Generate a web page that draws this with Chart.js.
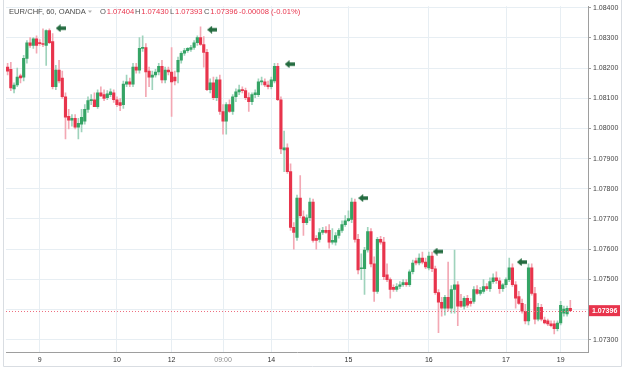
<!DOCTYPE html>
<html>
<head>
<meta charset="utf-8">
<script src="https://cdn.jsdelivr.net/npm/chart.js@4.4.1/dist/chart.umd.min.js"></script>
<style>
  html, body { margin: 0; padding: 0; background: #fff; }
</style>
</head>
<body>
<canvas id="eurchf" width="625" height="367"></canvas>
<script>
// EUR/CHF hourly candles (OANDA)
const opens = [
  1.08203,1.08196,1.08131,1.08144,1.08174,1.08170,1.08232,1.08284,1.08275,1.08297,
  1.08284,1.08281,1.08275,1.08324,1.08288,1.08138,1.08193,1.08167,1.08105,1.08040,
  1.08027,1.08033,1.08004,1.08014,1.08024,1.08063,1.08092,1.08095,1.08072,1.08118,
  1.08112,1.08102,1.08112,1.08118,1.08095,1.08086,1.08079,1.08147,1.08154,1.08147,
  1.08203,1.08193,1.08265,1.08268,1.08190,1.08170,1.08177,1.08187,1.08206,1.08161,
  1.08193,1.08187,1.08170,1.08187,1.08226,1.08249,1.08258,1.08262,1.08268,1.08284,
  1.08301,1.08278,1.08252,1.08128,1.08151,1.08102,1.08161,1.08056,1.08024,1.08079,
  1.08056,1.08105,1.08121,1.08128,1.08125,1.08102,1.08089,1.08112,1.08112,1.08154,
  1.08154,1.08144,1.08138,1.08157,1.08206,1.08095,1.07929,1.07936,1.07857,1.07672,
  1.07639,1.07769,1.07707,1.07688,1.07704,1.07756,1.07636,1.07632,1.07655,1.07662,
  1.07662,1.07623,1.07623,1.07645,1.07662,1.07681,1.07694,1.07698,1.07756,1.07632,
  1.07535,1.07535,1.07597,1.07658,1.07551,1.07460,1.07632,1.07623,1.07515,1.07499,
  1.07473,1.07466,1.07476,1.07482,1.07489,1.07482,1.07525,1.07561,1.07554,1.07570,
  1.07557,1.07538,1.07577,1.07535,1.07456,1.07424,1.07404,1.07440,1.07404,1.07466,
  1.07482,1.07427,1.07411,1.07437,1.07427,1.07427,1.07466,1.07453,1.07460,1.07476,
  1.07469,1.07492,1.07505,1.07495,1.07469,1.07482,1.07499,1.07538,1.07482,1.07443,
  1.07420,1.07394,1.07362,1.07538,1.07453,1.07368,1.07407,1.07365,1.07362,1.07352,
  1.07352,1.07336,1.07355,1.07388,1.07385,1.07404
];
const highs = [
  1.08216,1.08219,1.08151,1.08200,1.08180,1.08242,1.08291,1.08301,1.08301,1.08307,
  1.08294,1.08330,1.08327,1.08330,1.08314,1.08209,1.08226,1.08190,1.08118,1.08063,
  1.08046,1.08046,1.08033,1.08063,1.08079,1.08105,1.08112,1.08118,1.08128,1.08138,
  1.08128,1.08125,1.08131,1.08128,1.08105,1.08099,1.08157,1.08177,1.08167,1.08216,
  1.08216,1.08301,1.08307,1.08281,1.08203,1.08190,1.08196,1.08216,1.08226,1.08203,
  1.08203,1.08268,1.08190,1.08236,1.08255,1.08265,1.08268,1.08275,1.08291,1.08307,
  1.08337,1.08304,1.08262,1.08164,1.08170,1.08170,1.08177,1.08079,1.08086,1.08095,
  1.08112,1.08131,1.08144,1.08138,1.08134,1.08118,1.08118,1.08128,1.08164,1.08170,
  1.08164,1.08157,1.08170,1.08216,1.08216,1.08105,1.07991,1.07949,1.07883,1.07688,
  1.07779,1.07844,1.07727,1.07714,1.07769,1.07766,1.07645,1.07668,1.07672,1.07675,
  1.07681,1.07668,1.07655,1.07668,1.07694,1.07711,1.07727,1.07769,1.07766,1.07649,
  1.07584,1.07606,1.07672,1.07668,1.07574,1.07639,1.07642,1.07639,1.07551,1.07505,
  1.07482,1.07486,1.07492,1.07499,1.07499,1.07531,1.07564,1.07570,1.07584,1.07590,
  1.07570,1.07590,1.07590,1.07544,1.07466,1.07440,1.07447,1.07557,1.07479,1.07597,
  1.07492,1.07450,1.07443,1.07447,1.07437,1.07476,1.07479,1.07473,1.07499,1.07486,
  1.07505,1.07518,1.07525,1.07505,1.07486,1.07505,1.07570,1.07551,1.07492,1.07460,
  1.07434,1.07417,1.07551,1.07551,1.07473,1.07420,1.07417,1.07375,1.07368,1.07362,
  1.07362,1.07362,1.07427,1.07411,1.07411,1.07430
];
const lows = [
  1.08177,1.08125,1.08118,1.08138,1.08151,1.08157,1.08216,1.08268,1.08265,1.08249,
  1.08275,1.08271,1.08209,1.08281,1.08131,1.08128,1.08151,1.08099,1.07965,1.07998,
  1.08007,1.07998,1.07965,1.07988,1.08014,1.08053,1.08079,1.08079,1.08066,1.08105,
  1.08092,1.08095,1.08105,1.08086,1.08072,1.08059,1.08066,1.08138,1.08138,1.08138,
  1.08183,1.08183,1.08255,1.08105,1.08138,1.08128,1.08170,1.08177,1.08151,1.08151,
  1.08177,1.08040,1.08144,1.08151,1.08216,1.08242,1.08252,1.08255,1.08262,1.08275,
  1.08275,1.08203,1.08125,1.08118,1.08095,1.08092,1.08046,1.07981,1.07981,1.08053,
  1.08046,1.08089,1.08112,1.08118,1.08095,1.08056,1.08079,1.08102,1.08105,1.08144,
  1.08138,1.08131,1.08131,1.08151,1.08092,1.07916,1.07857,1.07851,1.07662,1.07600,
  1.07629,1.07704,1.07645,1.07681,1.07694,1.07623,1.07600,1.07623,1.07649,1.07652,
  1.07603,1.07616,1.07613,1.07636,1.07655,1.07675,1.07691,1.07688,1.07623,1.07518,
  1.07499,1.07450,1.07590,1.07541,1.07427,1.07453,1.07616,1.07499,1.07492,1.07437,
  1.07460,1.07460,1.07469,1.07476,1.07476,1.07476,1.07518,1.07548,1.07548,1.07551,
  1.07535,1.07531,1.07525,1.07450,1.07323,1.07378,1.07381,1.07394,1.07388,1.07388,
  1.07346,1.07407,1.07401,1.07407,1.07411,1.07420,1.07450,1.07447,1.07453,1.07463,
  1.07460,1.07486,1.07486,1.07453,1.07460,1.07473,1.07492,1.07476,1.07404,1.07417,
  1.07388,1.07352,1.07349,1.07447,1.07352,1.07362,1.07362,1.07352,1.07346,1.07342,
  1.07319,1.07329,1.07349,1.07378,1.07378,1.07393
];
const closes = [
  1.08190,1.08134,1.08144,1.08170,1.08167,1.08232,1.08284,1.08275,1.08297,1.08275,
  1.08281,1.08278,1.08324,1.08284,1.08138,1.08193,1.08157,1.08105,1.08037,1.08027,
  1.08033,1.08004,1.08017,1.08037,1.08063,1.08092,1.08095,1.08072,1.08118,1.08108,
  1.08099,1.08115,1.08121,1.08095,1.08079,1.08076,1.08147,1.08154,1.08147,1.08203,
  1.08193,1.08265,1.08268,1.08187,1.08170,1.08177,1.08187,1.08206,1.08161,1.08193,
  1.08187,1.08154,1.08157,1.08226,1.08249,1.08258,1.08265,1.08268,1.08284,1.08301,
  1.08278,1.08252,1.08128,1.08151,1.08102,1.08161,1.08056,1.08024,1.08079,1.08056,
  1.08105,1.08121,1.08128,1.08125,1.08102,1.08089,1.08112,1.08118,1.08154,1.08157,
  1.08144,1.08138,1.08161,1.08206,1.08095,1.07932,1.07936,1.07857,1.07672,1.07655,
  1.07769,1.07711,1.07688,1.07704,1.07756,1.07629,1.07629,1.07655,1.07662,1.07655,
  1.07623,1.07629,1.07645,1.07662,1.07681,1.07694,1.07701,1.07756,1.07632,1.07531,
  1.07538,1.07597,1.07658,1.07551,1.07460,1.07632,1.07623,1.07509,1.07499,1.07466,
  1.07466,1.07476,1.07482,1.07489,1.07482,1.07525,1.07554,1.07554,1.07570,1.07557,
  1.07541,1.07577,1.07535,1.07456,1.07424,1.07404,1.07440,1.07404,1.07466,1.07482,
  1.07411,1.07411,1.07437,1.07414,1.07420,1.07466,1.07453,1.07463,1.07476,1.07469,
  1.07492,1.07505,1.07495,1.07469,1.07482,1.07499,1.07538,1.07482,1.07437,1.07420,
  1.07394,1.07362,1.07538,1.07453,1.07368,1.07407,1.07368,1.07355,1.07352,1.07346,
  1.07336,1.07355,1.07414,1.07401,1.07404,1.07396
];

// time axis: one slot per hour, only a few are labelled
const slotCount = 181;
const dayLabels = ['9', '10', '12', '09:00', '14', '15', '16', '17', '19'];
const dayLabelBars = [10, 34, 51, 67, 82, 106, 131, 155, 172];

// green signal arrows (bar position, price)
const signalBars = [16.5, 63.6, 87.7, 110.6, 133.7, 159.9];
const signalPrices = [1.08332, 1.08327, 1.08213, 1.07769, 1.07592, 1.07557];

const yMin = 1.07259;
const yMax = 1.08405;
const yStep = 0.001;

const UP = '#35a465', DOWN = '#e8344c';
const UP_WICK = '#9fd3bc', DOWN_WICK = '#f3a8b4';
const GRID = '#e7eef3', AXIS = '#9e9e9e';
const FONT = "'Liberation Sans', Arial, sans-serif";

const categories = Array.from({ length: slotCount }, () => '');
dayLabelBars.forEach((b, i) => { categories[b] = dayLabels[i]; });

const rising = closes.map((c, i) => c >= opens[i]);
const bodies = opens.map((o, i) => [o, closes[i]]);
const wicks = lows.map((l, i) => [l, highs[i]]);
const last = closes.length - 1;
const lastClose = closes[last];

// little left-pointing arrow used as point style
const arrowImg = document.createElement('canvas');
arrowImg.width = 10;
arrowImg.height = 8;
const a = arrowImg.getContext('2d');
a.fillStyle = '#236b3f';
a.beginPath();
a.moveTo(0, 4); a.lineTo(5, 0); a.lineTo(5, 2.3); a.lineTo(10, 2.3);
a.lineTo(10, 5.7); a.lineTo(5, 5.7); a.lineTo(5, 8); a.closePath();
a.fill();

const framePlugin = {
    id: 'frame',
    beforeDraw(chart) {
        const ctx = chart.ctx;
        ctx.save();
        ctx.strokeStyle = '#d9dde2';
        ctx.lineWidth = 1;
        ctx.beginPath();
        ctx.moveTo(3.5, 0); ctx.lineTo(3.5, 366.5);
        ctx.lineTo(621.5, 366.5); ctx.lineTo(621.5, 0);
        ctx.stroke();
        ctx.restore();
    }
};

const priceLinePlugin = {
    id: 'priceLine',
    afterDatasetsDraw(chart) {
        const { ctx, chartArea } = chart;
        const py = Math.round(chart.scales.y.getPixelForValue(lastClose)) + 0.5;
        ctx.save();
        ctx.strokeStyle = '#ee6f80';
        ctx.lineWidth = 1;
        ctx.setLineDash([1, 2]);
        ctx.beginPath();
        ctx.moveTo(chartArea.left, py);
        ctx.lineTo(chartArea.right, py);
        ctx.stroke();
        ctx.restore();
    },
    afterDraw(chart) {
        const { ctx, chartArea } = chart;
        const py = chart.scales.y.getPixelForValue(lastClose);
        ctx.save();
        ctx.fillStyle = DOWN;
        ctx.fillRect(chartArea.right + 1, py - 5.5, 31, 11);
        ctx.fillStyle = '#ffffff';
        ctx.font = 'bold 7px ' + FONT;
        ctx.textBaseline = 'middle';
        ctx.fillText(lastClose.toFixed(5), chartArea.right + 4, py + 0.5);
        ctx.restore();
    }
};

const headerPlugin = {
    id: 'header',
    afterDraw(chart) {
        const ctx = chart.ctx;
        const y = 11.5;
        ctx.save();
        ctx.font = '7.6px ' + FONT;
        ctx.textBaseline = 'middle';
        ctx.fillStyle = '#4a4a4a';
        ctx.fillText('EUR/CHF, 60, OANDA', 9, y);
        ctx.fillStyle = '#b5b5b5';
        ctx.beginPath();
        ctx.moveTo(88, y - 1); ctx.lineTo(92, y - 1); ctx.lineTo(90, y + 1.5); ctx.closePath();
        ctx.fill();
        const parts = [['O', opens[last], 100], ['H', highs[last], 135], ['L', lows[last], 170], ['C', closes[last], 204]];
        parts.forEach(([k, v, x]) => {
            ctx.fillStyle = '#555';
            ctx.fillText(k, x, y);
            ctx.fillStyle = DOWN;
            ctx.fillText(v.toFixed(5), x + ctx.measureText(k).width + 0.8, y);
        });
        const chg = closes[last] - closes[last - 1];
        const pct = chg / closes[last - 1] * 100;
        ctx.fillStyle = DOWN;
        ctx.fillText(chg.toFixed(5) + ' (' + pct.toFixed(2) + '%)', 239, y);
        ctx.restore();
    }
};

new Chart(document.getElementById('eurchf').getContext('2d'), {
    type: 'bar',
    data: {
        labels: categories,
        datasets: [
            {
                type: 'line',
                label: 'Signals',
                data: signalBars.map((b, i) => ({ x: b, y: signalPrices[i] })),
                xAxisID: 'xs',
                showLine: false,
                pointStyle: arrowImg,
                pointRadius: 5,
                order: 0
            },
            {
                label: 'Body',
                data: bodies,
                backgroundColor: rising.map(r => r ? UP : DOWN),
                barThickness: 2.5,
                minBarLength: 1,
                grouped: false,
                borderWidth: 0,
                order: 1
            },
            {
                label: 'Wick',
                data: wicks,
                backgroundColor: rising.map(r => r ? UP_WICK : DOWN_WICK),
                barThickness: 1,
                grouped: false,
                borderWidth: 0,
                order: 2
            }
        ]
    },
    options: {
        responsive: false,
        animation: false,
        devicePixelRatio: 1,
        layout: { padding: { left: 4, top: 0, right: 0, bottom: 0 } },
        plugins: {
            legend: { display: false },
            tooltip: { enabled: false }
        },
        scales: {
            x: {
                offset: true,
                grid: {
                    offset: false,
                    drawTicks: false,
                    color: c => (c.tick && c.tick.label) ? GRID : 'rgba(0,0,0,0)'
                },
                border: { color: AXIS },
                ticks: {
                    autoSkip: false,
                    maxRotation: 0,
                    padding: 4,
                    font: { family: FONT, size: 7 },
                    color: c => (c.tick && c.tick.label === '09:00') ? '#8c8c8c' : '#333333'
                },
                afterFit: s => { s.height = 15; }
            },
            xs: {
                type: 'linear',
                display: false,
                offset: false,
                grid: { offset: false },
                min: -0.5,
                max: slotCount - 0.5
            },
            y: {
                position: 'right',
                min: yMin,
                max: yMax,
                beginAtZero: false,
                grid: { color: GRID, tickColor: AXIS, tickLength: 3 },
                border: { color: AXIS },
                ticks: {
                    stepSize: yStep,
                    includeBounds: false,
                    padding: 2,
                    font: { family: FONT, size: 7 },
                    color: '#444444',
                    callback: v => v.toFixed(5)
                },
                afterFit: s => { s.width = 37; }
            }
        }
    },
    plugins: [framePlugin, priceLinePlugin, headerPlugin]
});
</script>
</body>
</html>
